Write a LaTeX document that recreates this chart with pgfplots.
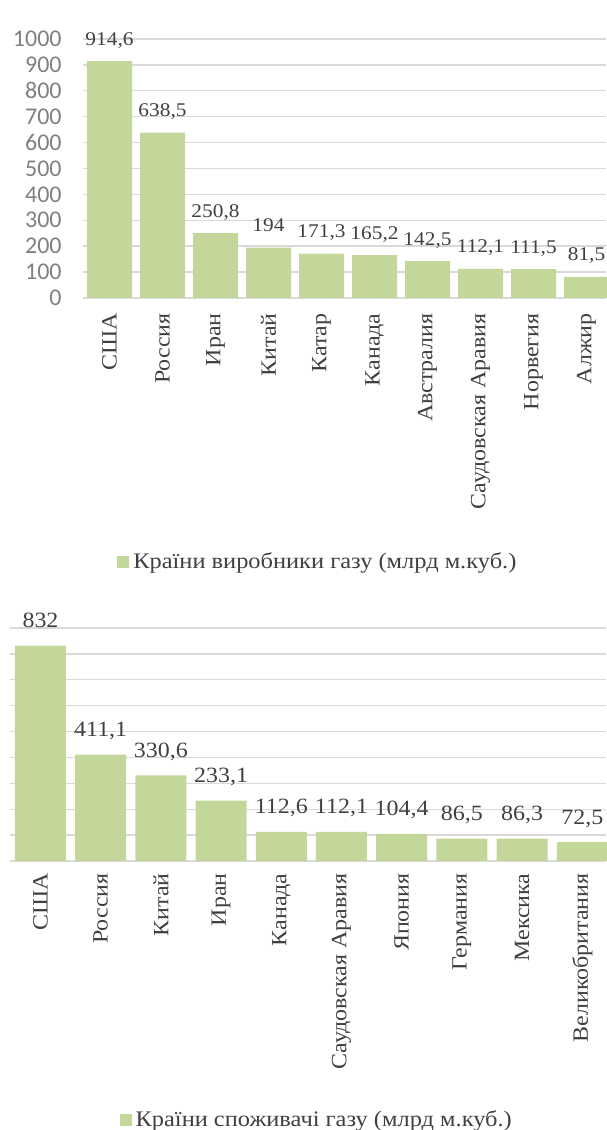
\documentclass[border=0pt]{standalone}
\usepackage{pgfplots}
\pgfplotsset{compat=1.18}
\usepackage{fontspec}
\setmainfont{Liberation Serif}[FakeStretch=1.1]
\newfontfamily\carlito{Carlito}
\definecolor{barcol}{RGB}{196,215,155}
\definecolor{gridcol}{RGB}{217,217,217}
\definecolor{labcol}{RGB}{64,64,64}
\definecolor{tickcol}{RGB}{128,128,128}
\begin{document}
\begin{tikzpicture}
\path[use as bounding box] (0,0) rectangle (303pt,565pt);
% ---------- top chart ----------
\begin{axis}[
  at={(41.5pt,416pt)}, anchor=south west,
  scale only axis, width=261.5pt, height=129.5pt,
  clip=false,
  xmin=-0.5, xmax=9.368, ymin=0, ymax=1000,
  xtick={0,...,9},
  xticklabels={США,Россия,Иран,Китай,Катар,Канада,Австралия,Саудовская Аравия,Норвегия,Алжир},
  ytick={0,100,...,1000},
  ymajorgrids, major grid style={gridcol, line width=0.7pt},
  axis line style={draw=none},
  major tick length=0pt,
  /pgf/number format/assume math mode=true,
  /pgf/number format/1000 sep={},
  xticklabel style={rotate=90, anchor=east, inner sep=0pt, font=\fontsize{10.9}{12}\selectfont, text=labcol},
  xticklabel shift=7.5pt,
  yticklabel style={anchor=east, inner sep=0pt, font=\carlito\fontsize{12}{13}\selectfont, text=tickcol},
  yticklabel shift=10.5pt,
  nodes near coords={\pgfmathprintnumber[use comma,fixed,precision=1]{\pgfplotspointmeta}},
  every node near coord/.append style={anchor=base, inner sep=0pt, yshift=8pt, font=\fontsize{9.7}{11}\selectfont, text=labcol},
  legend style={draw=none, fill=none, at={(0.451,-1.019)}, anchor=center, font=\fontsize{11.1}{12}\selectfont, text=labcol},
  legend image code/.code={\fill[barcol] (0pt,-3pt) rectangle (6pt,3pt);},
]
\addplot[ybar, bar width=22.5pt, fill=barcol, draw=none] coordinates {
(0,914.6) (1,638.5) (2,250.8) (3,194) (4,171.3) (5,165.2) (6,142.5) (7,112.1) (8,111.5) (9,81.5)};
\addlegendentry{Країни виробники газу (млрд м.куб.)}
\end{axis}
% ---------- bottom chart ----------
\begin{axis}[
  at={(5.2pt,134.5pt)}, anchor=south west,
  scale only axis, width=297.8pt, height=116.5pt,
  clip=false,
  xmin=-0.5, xmax=9.394, ymin=0, ymax=900,
  xtick={0,...,9},
  xticklabels={США,Россия,Китай,Иран,Канада,Саудовская Аравия,Япония,Германия,Мексика,Великобритания},
  ytick={0,100,...,900}, yticklabels={},
  ymajorgrids, major grid style={gridcol, line width=0.7pt},
  axis line style={draw=none},
  major tick length=0pt,
  /pgf/number format/assume math mode=true,
  xticklabel style={rotate=90, anchor=east, inner sep=0pt, font=\fontsize{10.9}{12}\selectfont, text=labcol},
  xticklabel shift=6pt,
  nodes near coords={\pgfmathprintnumber[use comma,fixed,precision=1]{\pgfplotspointmeta}},
  every node near coord/.append style={anchor=base, inner sep=0pt, yshift=9pt, font=\fontsize{10.9}{12}\selectfont, text=labcol},
  legend style={draw=none, fill=none, at={(0.516,-1.112)}, anchor=center, font=\fontsize{11.1}{12}\selectfont, text=labcol},
  legend image code/.code={\fill[barcol] (0pt,-3pt) rectangle (6pt,3pt);},
]
\addplot[ybar, bar width=25.5pt, fill=barcol, draw=none] coordinates {
(0,832) (1,411.1) (2,330.6) (3,233.1) (4,112.6) (5,112.1) (6,104.4) (7,86.5) (8,86.3) (9,72.5)};
\addlegendentry{Країни споживачі газу (млрд м.куб.)}
\end{axis}
\end{tikzpicture}
\end{document}
